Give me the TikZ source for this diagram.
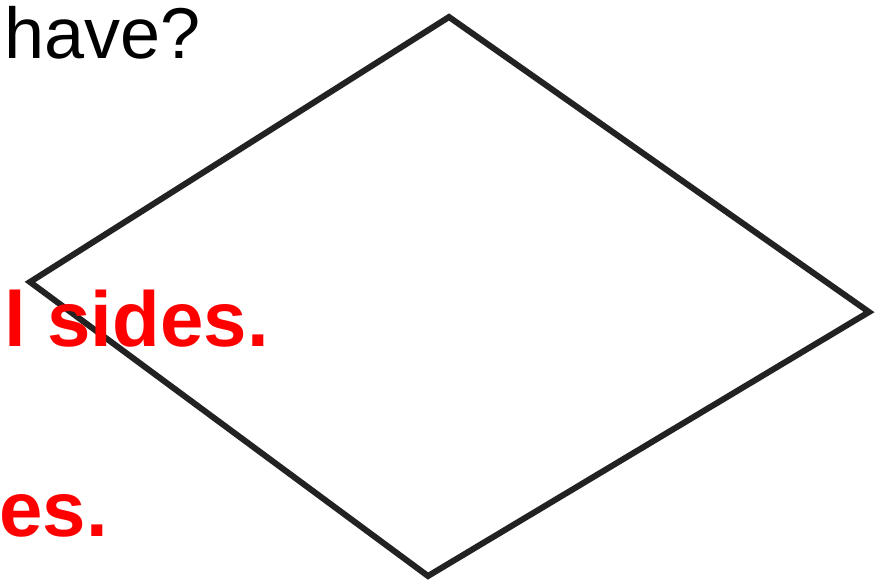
\documentclass[tikz,border=0pt]{standalone}
\usepackage{fontspec}
\setmainfont{Liberation Sans}
\definecolor{edgegray}{HTML}{222222}
\definecolor{ansred}{HTML}{FF0000}
\tikzset{
  shapeline/.style={draw=edgegray, line width=6pt, line join=miter},
  qtext/.style={inner sep=0pt, font=\fontsize{72}{80}\selectfont, text=black},
  atext/.style={inner sep=0pt, font=\fontsize{78}{86}\selectfont\bfseries, text=ansred}
}
\begin{document}
\begin{tikzpicture}[x=1pt,y=-1pt]
\useasboundingbox[fill=white] (0,0) rectangle (889,587);
\coordinate (top) at (449,17);
\coordinate (right) at (869,312);
\coordinate (bottom) at (428,576);
\coordinate (left) at (30,282);
\draw[shapeline] (top) -- (right) -- (bottom) -- (left) -- cycle;
\node[qtext, anchor=base east] (q) at (201,58) {have?};
\node[atext, anchor=base east] (a1) at (269,346) {l sides.};
\node[atext, anchor=base east] (a2) at (108,536) {es.};
\end{tikzpicture}
\end{document}
